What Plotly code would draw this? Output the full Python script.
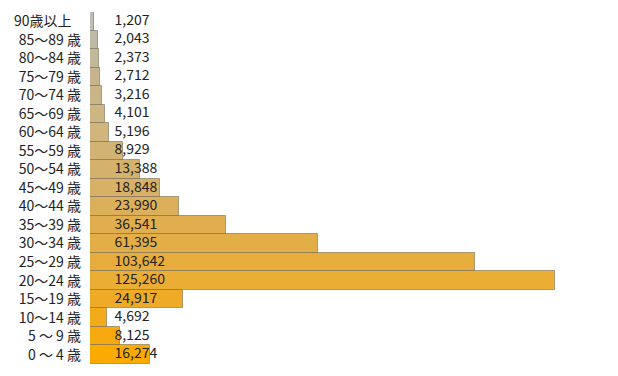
import plotly.graph_objects as go

categories = ["0 ～ 4 歳", "5 ～ 9 歳", "10～14 歳", "15～19 歳", "20～24 歳", "25～29 歳",
              "30～34 歳", "35～39 歳", "40～44 歳", "45～49 歳", "50～54 歳", "55～59 歳",
              "60～64 歳", "65～69 歳", "70～74 歳", "75～79 歳", "80～84 歳", "85～89 歳",
              "90歳以上\u00a0\u00a0\u00a0"]
values = [16274, 8125, 4692, 24917, 125260, 103642, 61395, 36541, 23990, 18848,
          13388, 8929, 5196, 4101, 3216, 2712, 2373, 2043, 1207]
value_labels = [f"{v:,}" for v in values]
colors = ["#fbaa00", "#f6aa10", "#f3ab1a", "#efab28", "#ebae34", "#e7ad3c",
          "#e3ae46", "#e0ae4e", "#dcb05a", "#d8b066", "#d5b26c", "#d3b373",
          "#d0b57c", "#cdb682", "#c9b58a", "#c6b48f", "#c3b898", "#c0b9a6", "#c0bcb3"]

label_x = 6600

fig = go.Figure()
fig.add_trace(go.Bar(
    x=values, y=categories, orientation="h",
    marker=dict(color=colors, line=dict(color="rgba(110,100,80,0.55)", width=1)),
    hoverinfo="skip", showlegend=False,
))
fig.add_trace(go.Scatter(
    x=[label_x] * len(values), y=categories, mode="text", text=value_labels,
    textposition="middle right", textfont=dict(size=14, color="#222222",
                                                family="Noto Sans CJK JP"),
    hoverinfo="skip", showlegend=False, cliponaxis=False,
))
fig.update_layout(
    width=618, height=376,
    margin=dict(l=90, r=63, t=12, b=12, autoexpand=False),
    bargap=0,
    paper_bgcolor="white", plot_bgcolor="white",
    font=dict(family="Noto Sans CJK JP", size=14, color="#222222"),
    xaxis=dict(range=[0, 125260], visible=False, fixedrange=True, automargin=False),
    yaxis=dict(type="category", categoryorder="array", categoryarray=categories,
               range=[-0.5, 18.5], showgrid=False, zeroline=False, showline=False,
               automargin=False, fixedrange=True,
               ticks="", ticklabelstandoff=8, tickfont=dict(size=14, color="#222222")),
)
fig.write_html("out.html", config={"displayModeBar": False},
               post_script="document.body.style.margin='0';document.body.style.overflow='hidden';")
